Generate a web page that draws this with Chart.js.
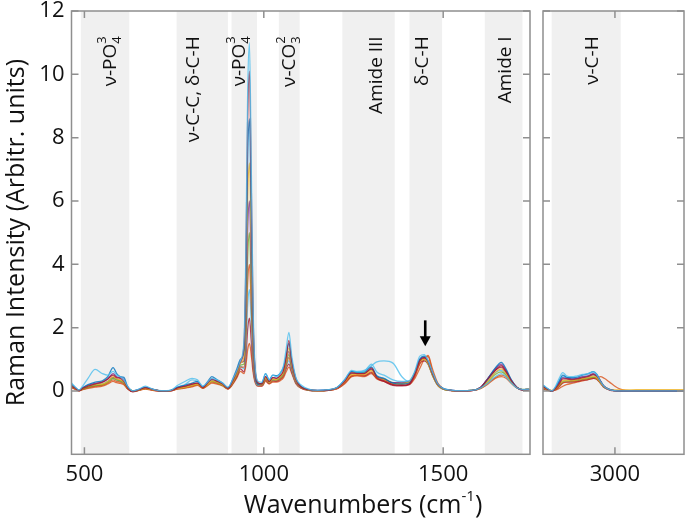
<!DOCTYPE html>
<html><head><meta charset="utf-8">
<script src="https://cdn.jsdelivr.net/npm/chart.js@4/dist/chart.umd.min.js"></script>
<style>
html,body{margin:0;padding:0;background:#fff;}
#wrap{position:relative;width:685px;height:523px;overflow:hidden;background:#fff;}
#c1{position:absolute;left:0;top:0;}
#c2{position:absolute;left:537px;top:0;}
</style></head><body>
<div id="wrap"><canvas id="c1" width="685" height="523"></canvas><canvas id="c2" width="148" height="523"></canvas></div>
<script>
// ---------- DATA ----------
const wavenumbers = [464,475,485,495,510,530,550,565,580,590,
 600,610,620,635,650,670,690,715,740,760,
 780,800,815,830,845,855,870,885,900,915,
 925,935,945,950,955,960,965,970,975,985,
 995,1005,1015,1025,1035,1045,1055,1062,1070,1078,
 1090,1105,1125,1150,1180,1205,1225,1245,1260,1280,
 1300,1315,1335,1360,1385,1405,1420,1435,1447,1458,
 1470,1485,1500,1520,1550,1580,1605,1625,1645,1662,
 1675,1690,1705,1720,1740];

const s1 = [0.25,0.12,0.03,0.15,0.40,0.68,0.55,0.50,0.62,0.50,
 0.45,0.35,0.15,0.00,0.05,0.15,0.06,0.01,0.02,0.18,
 0.30,0.40,0.35,0.15,0.30,0.40,0.35,0.25,0.12,0.40,
 0.65,0.95,1.65,4.4,9.4,11.0,7.2,2.8,0.9,0.30,
 0.28,0.55,0.35,0.50,0.45,0.55,0.80,1.30,1.85,1.10,
 0.40,0.18,0.06,0.02,0.04,0.12,0.35,0.65,0.60,0.62,
 0.85,0.60,0.50,0.35,0.30,0.32,0.60,1.10,1.15,0.95,
 0.60,0.22,0.08,0.03,0.01,0.02,0.10,0.25,0.45,0.55,
 0.45,0.25,0.10,0.05,0.05];
const s2 = [0.15,0.08,0.00,0.08,0.15,0.22,0.28,0.38,0.50,0.42,
 0.40,0.30,0.10,-0.02,0.03,0.10,0.05,0.00,0.01,0.10,
 0.15,0.22,0.25,0.10,0.28,0.38,0.30,0.22,0.08,0.35,
 0.62,0.92,1.5,4.0,8.6,10.1,6.6,2.5,0.80,0.25,
 0.22,0.45,0.30,0.42,0.40,0.48,0.65,1.05,1.60,0.95,
 0.35,0.12,0.04,0.01,0.03,0.10,0.30,0.58,0.55,0.55,
 0.72,0.42,0.32,0.20,0.18,0.22,0.50,0.95,1.05,0.92,
 0.55,0.20,0.07,0.02,0.00,0.01,0.12,0.38,0.65,0.80,
 0.62,0.32,0.12,0.04,0.04];
const s3 = [0.22,0.10,0.02,0.10,0.20,0.28,0.32,0.45,0.74,0.55,
 0.45,0.43,0.15,0.00,0.04,0.12,0.06,0.00,0.02,0.12,
 0.18,0.25,0.30,0.14,0.32,0.45,0.35,0.25,0.10,0.42,
 0.70,1.0,1.3,3.4,7.3,8.6,5.6,2.2,0.75,0.22,
 0.25,0.55,0.35,0.50,0.48,0.55,0.75,1.10,1.50,0.95,
 0.38,0.14,0.05,0.02,0.03,0.12,0.35,0.62,0.58,0.60,
 0.75,0.48,0.40,0.25,0.22,0.25,0.55,1.0,1.10,0.95,
 0.58,0.22,0.08,0.03,0.01,0.02,0.12,0.40,0.72,0.90,
 0.70,0.35,0.12,0.04,0.05];
const s4 = [0.18,0.08,0.02,0.08,0.15,0.20,0.22,0.30,0.45,0.38,
 0.35,0.28,0.10,0.00,0.03,0.08,0.04,0.00,0.01,0.08,
 0.12,0.18,0.22,0.10,0.22,0.32,0.28,0.20,0.08,0.32,
 0.58,0.88,1.1,2.9,6.1,7.2,4.7,1.8,0.65,0.25,
 0.22,0.42,0.28,0.38,0.36,0.45,0.60,0.95,1.35,0.85,
 0.32,0.12,0.04,0.01,0.03,0.10,0.28,0.52,0.52,0.52,
 0.65,0.42,0.35,0.22,0.22,0.28,0.55,0.95,1.0,0.88,
 0.52,0.18,0.06,0.02,0.01,0.02,0.10,0.32,0.58,0.70,
 0.55,0.30,0.12,0.05,0.05];
const s5 = [0.20,0.10,0.02,0.10,0.18,0.24,0.28,0.38,0.55,0.45,
 0.42,0.36,0.14,0.00,0.04,0.10,0.05,0.00,0.01,0.09,
 0.14,0.20,0.25,0.12,0.26,0.36,0.32,0.22,0.10,0.36,
 0.62,0.90,0.95,2.4,5.1,6.0,3.9,1.5,0.55,0.22,
 0.24,0.45,0.30,0.42,0.40,0.46,0.60,0.92,1.25,0.80,
 0.30,0.12,0.04,0.02,0.03,0.10,0.30,0.55,0.55,0.55,
 0.68,0.45,0.36,0.26,0.28,0.30,0.55,1.0,1.05,0.90,
 0.55,0.20,0.07,0.03,0.01,0.02,0.12,0.40,0.70,0.85,
 0.65,0.34,0.12,0.04,0.05];
const s6 = [0.15,0.07,0.01,0.06,0.12,0.18,0.20,0.28,0.40,0.35,
 0.32,0.26,0.10,0.00,0.02,0.08,0.04,0.00,0.01,0.08,
 0.12,0.18,0.22,0.10,0.22,0.30,0.26,0.18,0.08,0.30,
 0.55,0.82,0.85,2.0,4.2,5.0,3.3,1.3,0.50,0.20,
 0.20,0.40,0.28,0.36,0.35,0.42,0.55,0.85,1.15,0.75,
 0.28,0.10,0.03,0.01,0.03,0.10,0.30,0.55,0.58,0.58,
 0.68,0.46,0.38,0.26,0.25,0.30,0.52,0.95,1.0,0.85,
 0.50,0.18,0.06,0.02,0.01,0.02,0.10,0.30,0.52,0.60,
 0.50,0.28,0.11,0.04,0.05];
const s7 = [0.12,0.06,0.01,0.05,0.10,0.15,0.18,0.25,0.35,0.30,
 0.28,0.22,0.08,0.00,0.02,0.07,0.03,0.00,0.01,0.07,
 0.10,0.15,0.20,0.09,0.20,0.28,0.24,0.18,0.07,0.28,
 0.50,0.75,0.75,1.6,3.4,4.0,2.7,1.1,0.45,0.20,
 0.18,0.36,0.25,0.32,0.32,0.38,0.50,0.78,1.05,0.70,
 0.26,0.10,0.03,0.01,0.02,0.08,0.26,0.48,0.50,0.50,
 0.60,0.42,0.36,0.25,0.24,0.26,0.45,0.85,1.05,1.08,
 0.62,0.22,0.07,0.02,0.01,0.02,0.08,0.25,0.42,0.50,
 0.45,0.26,0.10,0.04,0.05];
const s8 = [0.18,0.08,0.02,0.08,0.15,0.20,0.22,0.30,0.40,0.35,
 0.30,0.25,0.10,0.00,0.04,0.10,0.05,0.00,0.02,0.12,
 0.20,0.35,0.30,0.14,0.26,0.34,0.28,0.20,0.08,0.30,
 0.52,0.78,0.70,1.35,2.7,3.2,2.2,0.95,0.40,0.18,
 0.18,0.38,0.26,0.34,0.33,0.40,0.52,0.78,0.95,0.65,
 0.25,0.10,0.03,0.01,0.03,0.10,0.32,0.62,0.62,0.65,
 0.80,0.92,0.95,0.88,0.45,0.30,0.55,1.0,1.08,0.90,
 0.52,0.18,0.06,0.02,0.01,0.02,0.10,0.35,0.58,0.65,
 0.52,0.28,0.11,0.04,0.05];
const s9 = [0.14,0.06,0.01,0.06,0.12,0.16,0.20,0.30,0.42,0.36,
 0.32,0.25,0.08,-0.02,0.02,0.08,0.03,-0.01,0.00,0.08,
 0.12,0.18,0.22,0.10,0.24,0.32,0.26,0.18,0.07,0.26,
 0.46,0.70,0.60,1.05,1.95,2.3,1.6,0.75,0.35,0.16,
 0.16,0.34,0.24,0.32,0.30,0.36,0.48,0.70,0.85,0.60,
 0.24,0.09,0.02,0.00,0.02,0.08,0.25,0.48,0.50,0.48,
 0.58,0.40,0.30,0.18,0.16,0.20,0.45,0.88,0.95,0.85,
 0.50,0.18,0.06,0.01,0.00,0.01,0.12,0.40,0.65,0.75,
 0.58,0.30,0.11,0.03,0.04];
const s10 = [0.10,0.05,0.00,0.04,0.08,0.12,0.15,0.22,0.30,0.26,
 0.24,0.20,0.07,-0.02,0.01,0.06,0.02,-0.01,0.00,0.06,
 0.09,0.13,0.18,0.08,0.18,0.25,0.22,0.16,0.06,0.24,
 0.42,0.62,0.55,0.80,1.30,1.5,1.15,0.60,0.30,0.15,
 0.15,0.30,0.22,0.28,0.28,0.32,0.42,0.60,0.75,0.55,
 0.22,0.08,0.02,0.00,0.02,0.07,0.22,0.45,0.48,0.45,
 0.55,0.38,0.30,0.20,0.18,0.20,0.38,0.72,1.0,1.12,
 0.70,0.25,0.08,0.02,0.00,0.01,0.08,0.22,0.40,0.45,
 0.40,0.24,0.10,0.04,0.05];

const wavenumbersCH = [2800,2815,2825,2835,2845,2855,2865,2880,2895,2910,2925,2940,2950,2960,2970,2985,3000,3015,3030,3060,3100,3150,3192];
const r1 = [0.20,0.06,0.00,0.15,0.40,0.58,0.48,0.45,0.48,0.52,0.55,0.60,0.50,0.30,0.14,0.04,0.01,0.00,0.00,0.00,0.00,0.00,0.00];
const r2 = [0.12,0.04,0.00,0.08,0.22,0.38,0.38,0.36,0.38,0.42,0.45,0.52,0.46,0.30,0.14,0.04,0.01,0.00,0.00,0.00,0.00,0.00,0.00];
const r3 = [0.18,0.05,0.00,0.12,0.32,0.50,0.44,0.42,0.44,0.50,0.54,0.61,0.52,0.32,0.15,0.05,0.01,0.00,0.00,0.00,0.00,0.00,0.00];
const r4 = [0.10,0.05,0.02,0.08,0.20,0.33,0.34,0.34,0.36,0.40,0.43,0.47,0.42,0.27,0.13,0.05,0.03,0.03,0.03,0.04,0.04,0.04,0.04];
const r5 = [0.14,0.04,0.00,0.10,0.26,0.42,0.40,0.38,0.40,0.45,0.48,0.55,0.48,0.30,0.14,0.04,0.01,0.00,0.00,0.00,0.00,0.00,0.00];
const r6 = [0.10,0.03,0.00,0.07,0.18,0.30,0.32,0.32,0.34,0.38,0.40,0.44,0.40,0.26,0.12,0.04,0.01,0.00,0.00,0.00,0.00,0.00,0.00];
const r7 = [0.08,0.03,0.00,0.06,0.15,0.26,0.28,0.30,0.32,0.36,0.38,0.42,0.38,0.25,0.12,0.04,0.01,0.00,0.00,0.00,0.00,0.00,0.00];
const r8 = [0.15,0.04,0.00,0.10,0.28,0.45,0.42,0.40,0.40,0.44,0.47,0.52,0.45,0.28,0.13,0.04,0.01,0.00,0.00,0.00,0.00,0.00,0.00];
const r9 = [0.08,0.02,-0.01,0.05,0.14,0.25,0.28,0.28,0.30,0.34,0.36,0.40,0.36,0.24,0.11,0.03,0.00,-0.01,0.00,0.00,0.00,0.00,0.00];
const r10 = [0.06,0.02,0.00,0.03,0.08,0.15,0.20,0.24,0.28,0.32,0.36,0.40,0.42,0.45,0.40,0.28,0.15,0.06,0.02,0.01,0.00,0.00,0.00];

const ticksXLeft = [500, 1000, 1500];
const ticksXRight = [3000];
const ticksY = [0, 2, 4, 6, 8, 10, 12];
const bandsLeft = [[490,625],[757,900],[910,981],[1042,1100],[1219,1365],[1406,1497],[1616,1721]];
const bandsRight = [[2824,3016]];

// ---------- STYLE / ANNOTATIONS ----------
const palette = ['#4DBEEE','#A2142F','#0072BD','#EDB120','#7E2F8E','#77AC30','#D95319','#4DBEEE','#A2142F','#D95319'];
const leftSeries = [s1,s2,s3,s4,s5,s6,s7,s8,s9,s10];
const rightSeries = [r1,r2,r3,r4,r5,r6,r7,r8,r9,r10];

const labelsLeft = [
  {x:588,  parts:[{t:'ν-PO'},{sub:'4',sup:'3'}]},
  {x:819,  parts:[{t:'ν-C-C, δ-C-H'}]},
  {x:947,  parts:[{t:'ν-PO'},{sub:'4',sup:'3'}]},
  {x:1087, parts:[{t:'ν-CO'},{sub:'3',sup:'2'}]},
  {x:1329, parts:[{t:'Amide III'}]},
  {x:1457, parts:[{t:'δ-C-H'}]},
  {x:1689, parts:[{t:'Amide I'}]}
];
const labelsRight = [{x:2953, parts:[{t:'ν-C-H'}]}];

const FONT = "'Open Sans', 'DejaVu Sans', sans-serif";
const AXIS_COLOR = '#8f8f8f';

function hexA(hex, a){
  const n = parseInt(hex.slice(1),16);
  return `rgba(${(n>>16)&255},${(n>>8)&255},${n&255},${a})`;
}
function makeDatasets(xs, series){
  return series.map((ys,i)=>({
    data: xs.map((x,j)=>({x:x, y:ys[j]})),
    borderColor: hexA(palette[i],0.8),
    borderWidth: 1.3,
    pointRadius: 0,
    fill: false,
    tension: 0.4,
    cubicInterpolationMode: 'monotone'
  }));
}

function drawLabel(ctx, px, py, parts){
  const mainSize = 19, smallSize = 13;
  ctx.save();
  ctx.fillStyle = '#111';
  ctx.textBaseline = 'alphabetic';
  ctx.textAlign = 'left';
  let total = 0;
  const widths = parts.map(p=>{
    if (p.t){ ctx.font = `${mainSize}px ${FONT}`; return ctx.measureText(p.t).width; }
    ctx.font = `${smallSize}px ${FONT}`;
    return Math.max(ctx.measureText(p.sub||'').width, ctx.measureText(p.sup||'').width);
  });
  widths.forEach(w=>total+=w);
  ctx.translate(px, py);
  ctx.rotate(-Math.PI/2);
  let cx = -total;
  parts.forEach((p,i)=>{
    if (p.t){ ctx.font = `${mainSize}px ${FONT}`; ctx.fillText(p.t, cx, 0); }
    else {
      ctx.font = `${smallSize}px ${FONT}`;
      if (p.sub) ctx.fillText(p.sub, cx, 5);
      if (p.sup) ctx.fillText(p.sup, cx, -10);
    }
    cx += widths[i];
  });
  ctx.restore();
}

function panelPlugin(bands, ticksX, labels, extra){
  return {
    id: 'panel',
    beforeDatasetsDraw(chart){
      const {ctx, chartArea:a, scales:{x}} = chart;
      ctx.save();
      ctx.fillStyle = '#f0f0f0';
      bands.forEach(([b0,b1])=>{
        const p0 = Math.max(x.getPixelForValue(b0), a.left);
        const p1 = Math.min(x.getPixelForValue(b1), a.right);
        ctx.fillRect(p0, a.top, p1-p0, a.bottom-a.top);
      });
      ctx.restore();
      const y = chart.scales.y;
      labels.forEach(l=>drawLabel(ctx, x.getPixelForValue(l.x), y.getPixelForValue(11.2), l.parts));
    },
    afterDatasetsDraw(chart){
      const {ctx, chartArea:a, scales:{x,y}} = chart;
      ctx.save();
      ctx.strokeStyle = AXIS_COLOR;
      ctx.lineWidth = 1.5;
      ctx.strokeRect(a.left, a.top, a.right-a.left, a.bottom-a.top);
      ctx.beginPath();
      ticksX.forEach(v=>{
        const px = x.getPixelForValue(v);
        ctx.moveTo(px, a.bottom); ctx.lineTo(px, a.bottom-7);
        ctx.moveTo(px, a.top); ctx.lineTo(px, a.top+7);
      });
      ticksY.forEach(v=>{
        const py = y.getPixelForValue(v);
        ctx.moveTo(a.left, py); ctx.lineTo(a.left+7, py);
        ctx.moveTo(a.right, py); ctx.lineTo(a.right-7, py);
      });
      ctx.stroke();
      ctx.restore();
      if (extra) extra(chart);
    }
  };
}

function drawExtrasLeft(chart){
  const {ctx, scales:{x,y}} = chart;
  const ax = x.getPixelForValue(1450);
  const y0 = y.getPixelForValue(2.23), y1 = y.getPixelForValue(1.41);
  ctx.save();
  ctx.strokeStyle = '#000'; ctx.fillStyle = '#000'; ctx.lineWidth = 2.6;
  ctx.beginPath(); ctx.moveTo(ax, y0); ctx.lineTo(ax, y1-8); ctx.stroke();
  ctx.beginPath(); ctx.moveTo(ax-5.5, y1-10); ctx.lineTo(ax+5.5, y1-10); ctx.lineTo(ax, y1); ctx.closePath(); ctx.fill();
  ctx.fillStyle = '#111';
  ctx.textBaseline = 'middle';
  ctx.textAlign = 'left';
  const big = `25px ${FONT}`, small = `15px ${FONT}`;
  ctx.font = big; const wA = ctx.measureText('Wavenumbers (cm').width; const wC = ctx.measureText(')').width;
  ctx.font = small; const wB = ctx.measureText('-1').width;
  const cx = 363, cy = 506;
  let sx = cx - (wA+wB+wC)/2;
  ctx.font = big; ctx.fillText('Wavenumbers (cm', sx, cy);
  ctx.font = small; ctx.fillText('-1', sx+wA, cy-9);
  ctx.font = big; ctx.fillText(')', sx+wA+wB, cy);
  ctx.restore();
}

const tickFont = {family: FONT, size: 22};
const plainTick = v => String(v);

new Chart(document.getElementById('c1'), {
  type: 'line',
  data: { datasets: makeDatasets(wavenumbers, leftSeries) },
  options: {
    responsive: false, animation: false, devicePixelRatio: 1,
    layout: { padding: {left:0, top:11, right:155, bottom:0} },
    plugins: { legend:{display:false}, tooltip:{enabled:false} },
    scales: {
      x: {
        type:'linear', min:464, max:1742,
        afterBuildTicks: s=>{ s.ticks = ticksXLeft.map(v=>({value:v})); },
        afterFit: s=>{ s.height = 68.7; s.paddingLeft = 0; s.paddingRight = 0; },
        grid:{display:false, drawTicks:false}, border:{display:false},
        ticks:{padding:7, color:'#111', font:tickFont, maxRotation:0, autoSkip:false, callback:plainTick}
      },
      y: {
        type:'linear', min:-2, max:12,
        afterBuildTicks: s=>{ s.ticks = ticksY.map(v=>({value:v})); },
        afterFit: s=>{ s.width = 71.5; s.paddingTop = 0; s.paddingBottom = 0; },
        grid:{display:false, drawTicks:false}, border:{display:false},
        ticks:{padding:7, color:'#111', font:tickFont, callback:plainTick},
        title:{display:true, text:'Raman Intensity (Arbitr. units)', color:'#111', font:{family:FONT, size:25}, padding:{top:2, bottom:0}}
      }
    }
  },
  plugins: [panelPlugin(bandsLeft, ticksXLeft, labelsLeft, drawExtrasLeft)]
});

new Chart(document.getElementById('c2'), {
  type: 'line',
  data: { datasets: makeDatasets(wavenumbersCH, rightSeries) },
  options: {
    responsive: false, animation: false, devicePixelRatio: 1,
    layout: { padding: {left:6, top:11, right:1, bottom:0} },
    plugins: { legend:{display:false}, tooltip:{enabled:false} },
    scales: {
      x: {
        type:'linear', min:2800, max:3192,
        afterBuildTicks: s=>{ s.ticks = ticksXRight.map(v=>({value:v})); },
        afterFit: s=>{ s.height = 68.7; s.paddingLeft = 0; s.paddingRight = 0; },
        grid:{display:false, drawTicks:false}, border:{display:false},
        ticks:{padding:7, color:'#111', font:tickFont, maxRotation:0, autoSkip:false, callback:plainTick}
      },
      y: { type:'linear', min:-2, max:12, display:false }
    }
  },
  plugins: [panelPlugin(bandsRight, ticksXRight, labelsRight, null)]
});
</script>
</body></html>
